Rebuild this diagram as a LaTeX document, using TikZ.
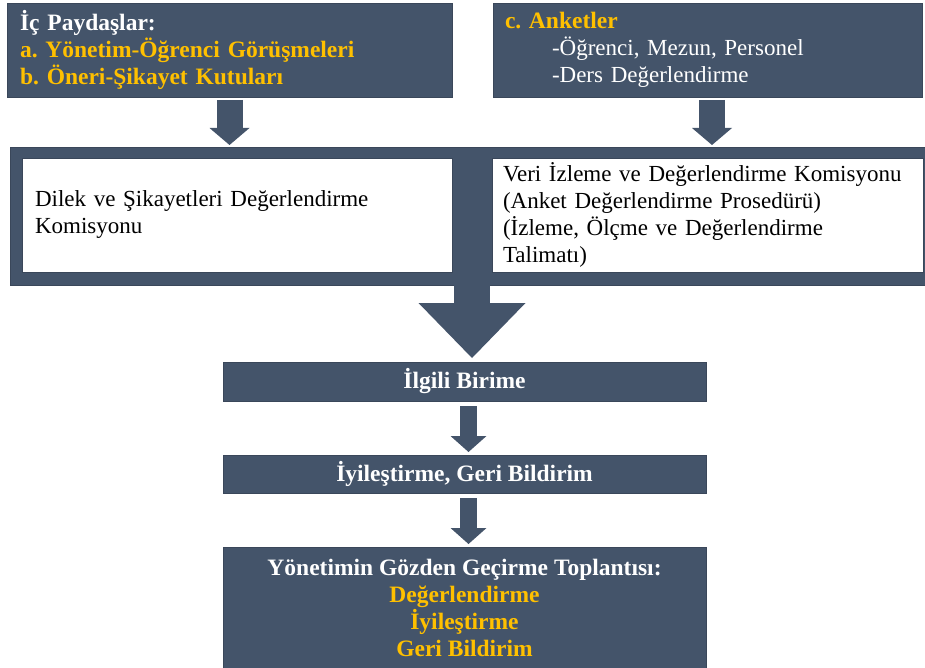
\documentclass[tikz,border=0pt]{standalone}
\usepackage{fontspec}
\setmainfont{Liberation Serif}
\usetikzlibrary{arrows.meta,calc}
\definecolor{slate}{HTML}{44546A}
\definecolor{gold}{HTML}{FFC000}
\tikzstyle{darkbox}=[fill=slate,draw=slate!85!black,line width=0.8pt,inner ysep=0pt,outer sep=0pt]
\tikzstyle{whitebox}=[fill=white,draw=slate!85!black,line width=0.8pt,inner ysep=0pt,outer sep=0pt,align=left,font=\plain]
\tikzstyle{blockarrow}=[draw=slate,line width=17pt,-{Triangle[width=36pt,length=16pt,line width=0pt]},shorten <=5pt,shorten >=3pt]
\tikzstyle{toparrow}=[draw=slate,line width=26pt,-{Triangle[width=40pt,length=17pt,line width=0pt]},shorten <=3pt,shorten >=2pt]
\tikzstyle{bigarrow}=[draw=slate,line width=36pt,-{Triangle[width=107pt,length=55pt,line width=0pt]},shorten <=-1pt,shorten >=4pt]
\newcommand{\plain}{\fontsize{23}{27}\selectfont\frenchspacing}
\newcommand{\heavy}{\fontsize{23.5}{27}\selectfont\bfseries\frenchspacing}

\begin{document}
\begin{tikzpicture}[x=1pt,y=-1pt]
    \useasboundingbox (0,0) rectangle (925,668);
    % Top boxes
    \node[darkbox,minimum height=94pt,text width=419pt,inner xsep=13pt,align=left,text=white,font=\heavy] (ic) at (229.5,50)
        {İç Paydaşlar:\\ \textcolor{gold}{a. Yönetim-Öğrenci Görüşmeleri}\\ \textcolor{gold}{b. Öneri-Şikayet Kutuları}};
    \node[darkbox,minimum height=94pt,text width=405pt,inner xsep=12pt,align=left,text=white,font=\plain] (anket) at (707.5,50)
        {\textcolor{gold}{\heavy c. Anketler}\\ \hspace*{47pt}-Öğrenci, Mezun, Personel\\ \hspace*{47pt}-Ders Değerlendirme};

    % Frame with the two commissions
    \node[darkbox,minimum width=915pt,minimum height=138pt] (frame) at (467.5,216) {};
    \node[whitebox,minimum height=114pt,text width=404pt,inner xsep=13pt] (dilek) at (237,215)
        {Dilek ve Şikayetleri Değerlendirme\\ Komisyonu};
    \node[whitebox,minimum height=114pt,text width=409pt,inner xsep=11pt] (veri) at (707.5,215)
        {Veri İzleme ve Değerlendirme Komisyonu\\ (Anket Değerlendirme Prosedürü)\\ (İzleme, Ölçme ve Değerlendirme\\ Talimatı)};
    \coordinate (gap) at ($(dilek.east)!0.5!(veri.west)$);

    % Lower boxes
    \foreach \pos/\name/\high/\txt in {{(464.5,381.5)/ilgili/39/İlgili Birime},{(464.5,474)/iyi/38/İyileştirme, Geri Bildirim}}
        \node[darkbox,minimum width=483pt,minimum height=\high pt,text=white,font=\heavy] (\name) at \pos {\txt};
    \node[darkbox,minimum width=483pt,minimum height=121pt,align=center,text=white,font=\heavy] (ygg) at (464.5,607.5)
        {Yönetimin Gözden Geçirme Toplantısı:\\ \textcolor{gold}{Değerlendirme}\\ \textcolor{gold}{İyileştirme}\\ \textcolor{gold}{Geri Bildirim}};

    % Arrows
    \draw[toparrow] (ic.south) -- (ic.south |- frame.north);
    \draw[toparrow] ([xshift=4.5pt]anket.south) -- ([xshift=4.5pt]anket.south |- frame.north);
    \draw[bigarrow] (frame.south -| gap) -- (ilgili.north -| gap);
    \foreach \source/\dest in {ilgili/iyi, iyi/ygg}
        \draw[blockarrow] ([xshift=4pt]\source.south) -- ([xshift=4pt]\dest.north);
\end{tikzpicture}
\end{document}
